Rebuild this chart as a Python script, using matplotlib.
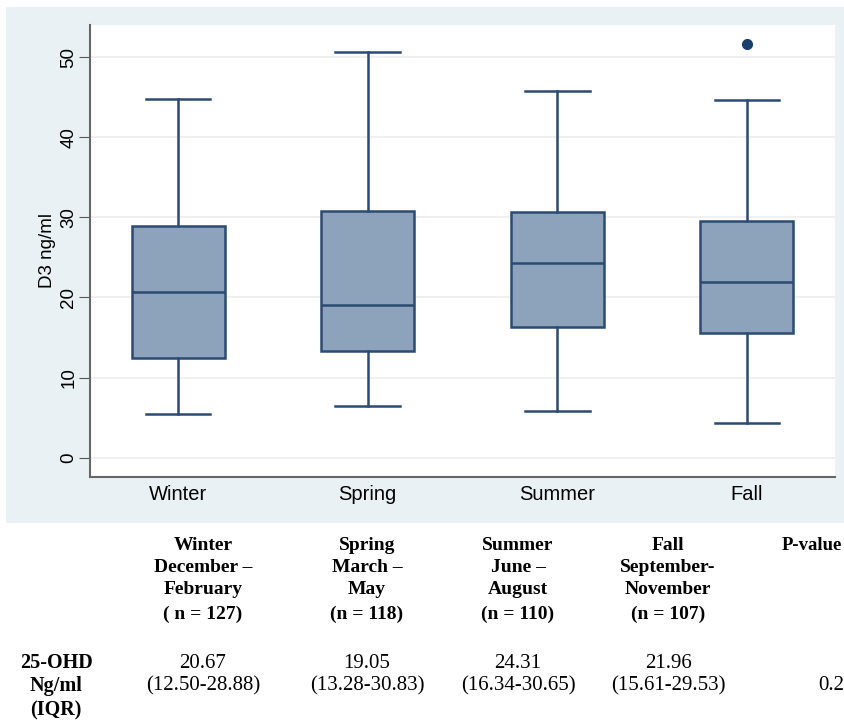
import matplotlib.pyplot as plt
from matplotlib.patches import Rectangle

seasons = ['Winter', 'Spring', 'Summer', 'Fall']
q1 = [12.50, 13.28, 16.34, 15.61]
med = [20.67, 19.05, 24.31, 21.96]
q3 = [28.88, 30.83, 30.65, 29.53]
wlo = [5.4, 6.5, 5.8, 4.4]
whi = [44.8, 50.6, 45.8, 44.6]
outliers = [[], [], [], [51.6]]

yticks = [0, 10, 20, 30, 40, 50]

head_lines = [
    ['Winter', 'December \u2013', 'February', '( n = 127)'],
    ['Spring', 'March \u2013', 'May', '(n = 118)'],
    ['Summer', 'June \u2013', 'August', '(n = 110)'],
    ['Fall', 'September-', 'November', '(n = 107)'],
]
row_label = ['25-OHD', 'Ng/ml', '(IQR)']
medians_txt = ['20.67', '19.05', '24.31', '21.96']
iqr_txt = ['(12.50-28.88)', '(13.28-30.83)', '(16.34-30.65)', '(15.61-29.53)']
p_value = '0.2'

plt.rcParams['font.family'] = ['Liberation Sans', 'DejaVu Sans']

W, H = 844, 723
fig = plt.figure(figsize=(W / 100, H / 100), dpi=100)
fig.patch.set_facecolor('white')

# light chart region behind the axes
fig.patches.append(Rectangle((6 / W, 1 - 523 / H), (W - 6) / W, (523 - 7) / H,
                             transform=fig.transFigure, facecolor='#eaf1f4',
                             edgecolor='none', zorder=-5))

ax = fig.add_axes([90 / W, 1 - 477 / H, (835 - 90) / W, (477 - 25) / H])
ax.set_zorder(2)
ax.set_facecolor('white')
line_c = '#2b4b72'
fill_c = '#8ca3bb'
pos = [1, 2, 3, 4]
stats = []
for i in range(4):
    stats.append(dict(med=med[i], q1=q1[i], q3=q3[i], whislo=wlo[i],
                      whishi=whi[i], fliers=outliers[i], label=seasons[i]))
ax.bxp(stats, positions=pos, widths=0.49, patch_artist=True,
       capwidths=0.34,
       boxprops=dict(facecolor=fill_c, edgecolor=line_c, linewidth=1.8),
       medianprops=dict(color=line_c, linewidth=1.8),
       whiskerprops=dict(color=line_c, linewidth=1.8),
       capprops=dict(color=line_c, linewidth=1.8),
       flierprops=dict(marker='o', markerfacecolor='#1a3f6e',
                       markeredgecolor='#1a3f6e', markersize=7))

ax.set_xlim(0.535, 4.465)
ax.set_ylim(-2.4, 54.0)
ax.set_yticks(yticks)
ax.set_yticklabels([str(t) for t in yticks], rotation=90, va='center',
                   fontsize=13.5)
ax.tick_params(axis='y', length=8, color='#555555', pad=1)
ax.tick_params(axis='x', length=0, labelsize=14.5, pad=6)
ax.yaxis.grid(True, color='#eeeeee', linewidth=1.2)
ax.set_axisbelow(True)
for s in ['top', 'right']:
    ax.spines[s].set_visible(False)
for s in ['left', 'bottom']:
    ax.spines[s].set_color('#666666')
    ax.spines[s].set_linewidth(1.5)
ax.set_ylabel('D3 ng/ml', fontsize=13.5, labelpad=3)

# table under the chart
serif = ['Liberation Serif', 'DejaVu Serif']
col_x = [203, 367, 518, 668]
head_y = [545, 567, 590, 614]
for cx, lines in zip(col_x, head_lines):
    for ty, t in zip(head_y, lines):
        fig.text(cx / W, 1 - ty / H, t, ha='center', va='center',
                 fontsize=14, fontweight='bold', family=serif)
fig.text(842 / W, 1 - 545 / H, 'P-value', ha='right', va='center',
         fontsize=13.5, fontweight='bold', family=serif)

data_y = [663, 686, 710]
for ty, t in zip(data_y, row_label):
    fig.text(56 / W, 1 - ty / H, t, ha='center', va='center',
             fontsize=14.5, fontweight='bold', family=serif)
for cx, m, q in zip(col_x, medians_txt, iqr_txt):
    fig.text(cx / W, 1 - data_y[0] / H, m, ha='center', va='center',
             fontsize=15, family=serif)
    fig.text(cx / W, 1 - data_y[1] / H, q, ha='center', va='center',
             fontsize=15, family=serif)
fig.text(831 / W, 1 - data_y[1] / H, p_value, ha='center', va='center',
         fontsize=15, family=serif)

fig.savefig('out.png', dpi=100)
